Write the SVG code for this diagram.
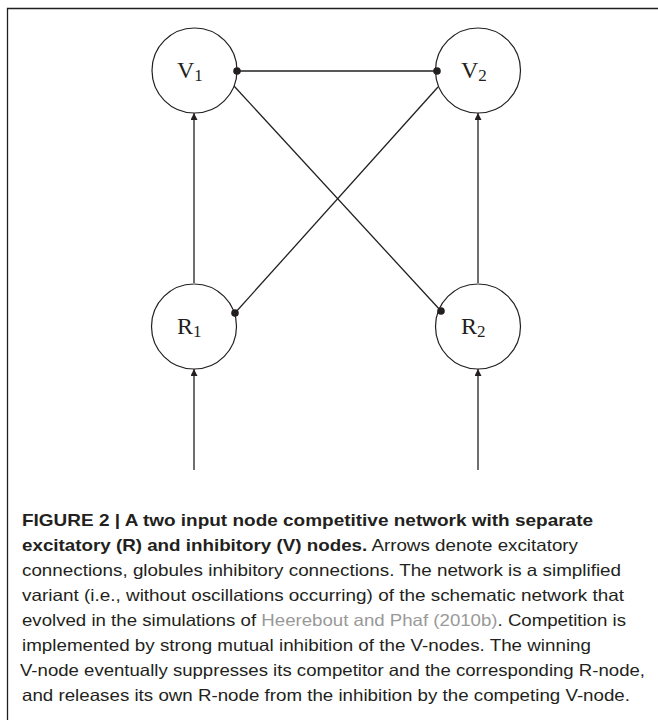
<svg xmlns="http://www.w3.org/2000/svg" width="658" height="720" viewBox="0 0 658 720">
<style>
.node{fill:#fff;stroke:#231f20;stroke-width:1.2}
.lbl{font-family:"Liberation Serif","Times New Roman",serif;font-size:24px;fill:#231f20}
.sub{font-size:17px}
.con line{stroke:#231f20;stroke-width:1.3}
.dot{fill:#231f20}
.cap{font-family:"Liberation Sans",Arial,sans-serif;font-size:16.5px;fill:#231f20}
.b{font-weight:bold}
.ref{fill:#999}
</style>
<defs>
<marker id="arr" viewBox="0 0 10 10" refX="10" refY="5" markerWidth="7" markerHeight="7" markerUnits="userSpaceOnUse" orient="auto">
<path d="M0,0 L10,5 L0,10 z" fill="#231f20"/>
</marker>
</defs>
<rect width="658" height="720" fill="#fff"/>
<path d="M7.5,720 V8.5 H658" fill="none" stroke="#231f20" stroke-width="1.3"/>
<g class="con">
<line x1="237" y1="71" x2="437" y2="71"/>
<line x1="234" y1="86" x2="441" y2="311"/>
<line x1="438" y1="87" x2="235" y2="313"/>
<line x1="194" y1="283" x2="194" y2="113" marker-end="url(#arr)"/>
<line x1="478" y1="283" x2="478" y2="113" marker-end="url(#arr)"/>
<line x1="194" y1="470" x2="194" y2="369" marker-end="url(#arr)"/>
<line x1="478" y1="470" x2="478" y2="369" marker-end="url(#arr)"/>
</g>
<g id="V1"><circle class="node" cx="194.5" cy="70.5" r="42.5"/><text class="lbl" x="177" y="78">V<tspan class="sub" dy="3">1</tspan></text></g>
<g id="V2"><circle class="node" cx="478" cy="70.5" r="42.5"/><text class="lbl" x="461" y="78">V<tspan class="sub" dy="3">2</tspan></text></g>
<g id="R1"><circle class="node" cx="194" cy="326.5" r="42.5"/><text class="lbl" x="177" y="334">R<tspan class="sub" dy="3">1</tspan></text></g>
<g id="R2"><circle class="node" cx="478" cy="326.5" r="42.5"/><text class="lbl" x="461" y="334">R<tspan class="sub" dy="3">2</tspan></text></g>
<g class="dots">
<circle class="dot" cx="237" cy="71" r="3.8"/>
<circle class="dot" cx="437" cy="71" r="3.8"/>
<circle class="dot" cx="441" cy="311" r="3.8"/>
<circle class="dot" cx="235" cy="313" r="3.8"/>
</g>
<g class="cap">
<text class="b" x="22" y="526" textLength="571" lengthAdjust="spacingAndGlyphs">FIGURE 2 | A two input node competitive network with separate</text>
<text x="22" y="551" textLength="556" lengthAdjust="spacingAndGlyphs"><tspan class="b">excitatory (R) and inhibitory (V) nodes.</tspan> Arrows denote excitatory</text>
<text x="22" y="576" textLength="599" lengthAdjust="spacingAndGlyphs">connections, globules inhibitory connections. The network is a simplified</text>
<text x="22" y="601" textLength="602" lengthAdjust="spacingAndGlyphs">variant (i.e., without oscillations occurring) of the schematic network that</text>
<text x="22" y="626" textLength="604" lengthAdjust="spacingAndGlyphs">evolved in the simulations of <tspan class="ref">Heerebout and Phaf (2010b)</tspan>. Competition is</text>
<text x="22" y="651" textLength="569" lengthAdjust="spacingAndGlyphs">implemented by strong mutual inhibition of the V-nodes. The winning</text>
<text x="20" y="676" textLength="625" lengthAdjust="spacingAndGlyphs">V-node eventually suppresses its competitor and the corresponding R-node,</text>
<text x="22" y="701" textLength="608" lengthAdjust="spacingAndGlyphs">and releases its own R-node from the inhibition by the competing V-node.</text>
</g>
</svg>
